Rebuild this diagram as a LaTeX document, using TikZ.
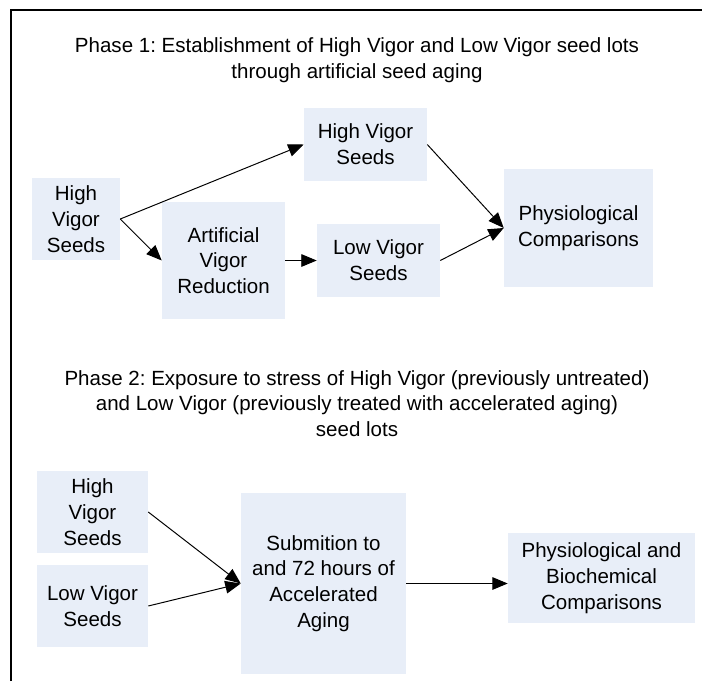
\documentclass[tikz,border=0pt]{standalone}
\usepackage{fontspec}
\setmainfont{Liberation Sans}
\frenchspacing
\usepackage{tikz}
\usetikzlibrary{arrows.meta,calc}

\definecolor{boxblue}{RGB}{232,238,248}

\begin{document}
\begin{tikzpicture}[
    x=0.25mm, y=-0.25mm,
    font=\fontsize{14.6}{18.3}\selectfont,
    seedbox/.style={fill=boxblue, align=center, inner sep=0pt},
    flow/.style={-{Triangle[length=11pt,width=9pt]}, line width=0.7pt}
]
\useasboundingbox (0,0) rectangle (702,681);

% Frame
\draw [line width=1.2pt] (11,681) -- (11,10) -- (702,10);

% Phase 1
\node (title1) at (357,60.5) [align=center] {Phase 1: Establishment of High Vigor and Low Vigor seed lots\\through artificial seed aging};

\node (hvs) at (76,219) [seedbox, minimum width=22mm, minimum height=20.5mm] {High\\Vigor\\Seeds};
\node (hvtop) at (365.5,144.5) [seedbox, minimum width=30.75mm, minimum height=18.25mm] {High Vigor\\Seeds};
\node (avr) at (223.5,260.5) [seedbox, minimum width=30.75mm, minimum height=29.25mm] {Artificial\\Vigor\\Reduction};
\node (lvs) at (378.5,260.5) [seedbox, minimum width=30.75mm, minimum height=18.25mm] {Low Vigor\\Seeds};
\node (phys) at (578.5,228) [seedbox, minimum width=37.25mm, minimum height=29.5mm] {Physiological\\Comparisons};

\draw [flow] (hvs.east) -- (hvtop.west);
\draw [flow] (hvs.east) -- (avr.west);
\draw [flow] (avr.east) -- (lvs.west);
\draw [flow] (hvtop.east) -- (phys.west);
\draw [flow] (lvs.east) -- (phys.west);

% Phase 2
\node (title2) at (357,403.5) [align=center] {Phase 2: Exposure to stress of High Vigor (previously untreated)\\and Low Vigor (previously treated with accelerated aging)\\seed lots};

\node (hv2) at (92.5,512) [seedbox, minimum width=27.75mm, minimum height=20.5mm] {High\\Vigor\\Seeds};
\node (lv2) at (92.5,606) [seedbox, minimum width=27.75mm, minimum height=20.5mm] {Low Vigor\\Seeds};
\node (aging) at (323.5,583.5) [seedbox, minimum width=41.25mm, minimum height=45.25mm] {Submition to\\and 72 hours of\\Accelerated\\Aging};
\node (physbio) at (601.5,578) [seedbox, minimum width=46.75mm, minimum height=22.5mm] {Physiological and\\Biochemical\\Comparisons};

\draw [flow] (hv2.east) -- (aging.west);
\draw [flow] (lv2.east) -- (aging.west);
\draw [flow] (aging.east) -- (aging.east -| physbio.west);

\end{tikzpicture}
\end{document}
